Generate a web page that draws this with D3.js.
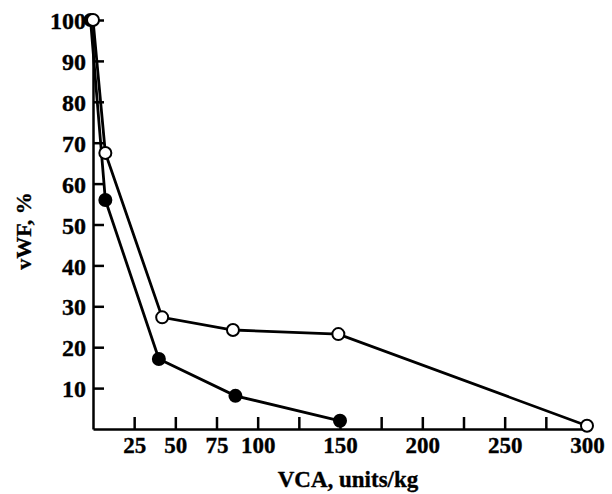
<!DOCTYPE html>
<html>
<head>
<meta charset="utf-8">
<script src="https://cdn.jsdelivr.net/npm/d3@7"></script>
<style>
  body { margin: 0; background: #fff; }
  text { font-family: "Liberation Serif", serif; font-weight: bold; fill: #000; stroke: #000; stroke-width: 0.35px; }
</style>
</head>
<body>
<div id="chart"></div>
<script>
// loading data
var openDose = [0, 7.5, 42, 85, 149, 300];
var openVwf = [100, 67.5, 27.3, 24.2, 23.2, 0.8];
var filledDose = [-1.5, 7.5, 40, 86.5, 150];
var filledVwf = [100, 56, 17.1, 8.1, 2.0];

var xTicks = [25, 50, 75, 100, 125, 150, 175, 200, 225, 250, 275, 300];
var xLabels = [25, 50, 75, 100, 150, 200, 250, 300];
var yTicks = [10, 20, 30, 40, 50, 60, 70, 80, 90, 100];

var openData = openDose.map(function(d, i) { return { x: d, y: openVwf[i] }; });
var filledData = filledDose.map(function(d, i) { return { x: d, y: filledVwf[i] }; });

// setting the dimensions
var width = 612, height = 494;

var svg = d3.select("#chart")
  .append("svg")
  .attr("width", width)
  .attr("height", height);

var x = d3.scaleLinear().domain([0, 300]).range([93, 587]);
var y = d3.scaleLinear().domain([0, 100]).range([429, 20]);

// y axis (ticks pointing inward)
var yAxis = svg.append("g")
  .attr("transform", "translate(" + x(0) + ",0)")
  .call(d3.axisLeft(y).tickValues(yTicks).tickSize(-11).tickSizeOuter(0).tickPadding(7));
yAxis.selectAll("text").attr("font-size", "24px").attr("dy", "0.36em");

// x axis
var xAxis = svg.append("g")
  .attr("transform", "translate(0," + y(0) + ")")
  .call(d3.axisBottom(x).tickValues(xTicks).tickSize(-12).tickSizeOuter(0).tickPadding(8)
    .tickFormat(function(d) { return xLabels.indexOf(d) >= 0 ? d : ""; }));
xAxis.selectAll("text").attr("font-size", "23px");
xAxis.selectAll(".tick").filter(function(d) { return d === 300; }).select("line").remove();

svg.selectAll(".domain, .tick line")
  .attr("stroke", "#000")
  .attr("stroke-width", 2.5);

// axis titles
svg.append("text")
  .attr("x", 348)
  .attr("y", 487)
  .attr("text-anchor", "middle")
  .attr("font-size", "23px")
  .text("VCA, units/kg");

svg.append("text")
  .attr("transform", "translate(31,231) rotate(-90)")
  .attr("text-anchor", "middle")
  .attr("font-size", "22px")
  .text("vWF, %");

// lines
var line = d3.line()
  .x(function(d) { return x(d.x); })
  .y(function(d) { return y(d.y); });

function drawSeries(data, fill) {
  svg.append("path")
    .datum(data)
    .attr("d", line)
    .attr("fill", "none")
    .attr("stroke", "#000")
    .attr("stroke-width", 2.8);
  svg.append("g").selectAll("circle")
    .data(data)
    .enter()
    .append("circle")
    .attr("cx", function(d) { return x(d.x); })
    .attr("cy", function(d) { return y(d.y); })
    .attr("r", 6)
    .attr("fill", fill)
    .attr("stroke", "#000")
    .attr("stroke-width", 2);
}

drawSeries(filledData, "#000");
drawSeries(openData, "#fff");
</script>
</body>
</html>
